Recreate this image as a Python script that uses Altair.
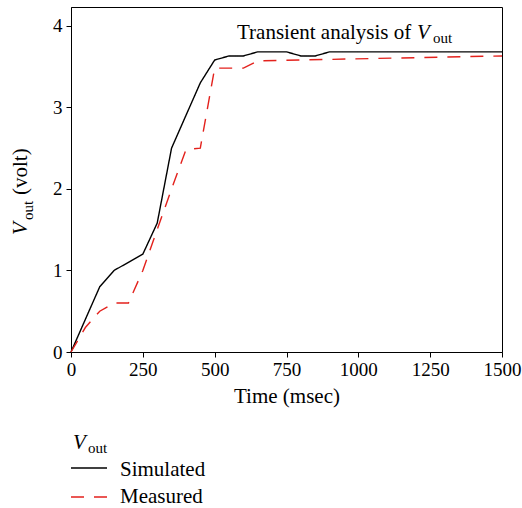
import altair as alt
import pandas as pd

FONT = "Liberation Serif"
RED = "#e3211c"

SERIES = ["Simulated", "Measured"]
SIM_T = [0, 100, 150, 250, 300, 350, 450, 500, 550, 600, 650, 750, 800, 850, 900, 1500]
SIM_V = [0, 0.8, 1.0, 1.2, 1.58, 2.5, 3.3, 3.58, 3.63, 3.63, 3.68, 3.68, 3.63, 3.63, 3.68, 3.68]
MEAS_T = [0, 50, 100, 150, 200, 250, 300, 350, 400, 450, 500, 550, 600, 650, 1500]
MEAS_V = [0, 0.3, 0.5, 0.6, 0.6, 1.0, 1.5, 2.0, 2.48, 2.5, 3.48, 3.48, 3.48, 3.57, 3.63]
X_TICKS = [0, 250, 500, 750, 1000, 1250, 1500]
Y_TICKS = [0, 1, 2, 3, 4]

TITLE_MAIN = "Transient analysis of "
V_SYM = "V"
SUB = "out"
Y_UNIT = "(volt)"
X_TITLE = "Time (msec)"

W, H = 431, 345

df = pd.concat([
    pd.DataFrame({"t": SIM_T, "v": SIM_V, "series": SERIES[0]}),
    pd.DataFrame({"t": MEAS_T, "v": MEAS_V, "series": SERIES[1]}),
])

one = pd.DataFrame({"k": [0]})

axis_style = dict(labelFont=FONT, titleFont=FONT, labelFontSize=19, titleFontSize=21,
                  titleFontWeight="normal", labelColor="black", titleColor="black",
                  labelFlush=False, labelOverlap=False, tickSize=5, format="d")

lines = alt.Chart(df).mark_line(strokeWidth=1.4).encode(
    x=alt.X("t:Q", scale=alt.Scale(domain=[0, 1500], nice=False),
            axis=alt.Axis(values=X_TICKS, title=X_TITLE, labelPadding=3, titlePadding=6, **axis_style)),
    y=alt.Y("v:Q", scale=alt.Scale(domain=[0, 4.23], nice=False),
            axis=alt.Axis(values=Y_TICKS, title=None, labelPadding=4, **axis_style)),
    color=alt.Color("series:N", scale=alt.Scale(domain=SERIES, range=["black", RED]), legend=None),
    strokeDash=alt.StrokeDash("series:N", scale=alt.Scale(domain=SERIES, range=[[1, 0], [13, 10]]), legend=None),
    order=alt.Order("t:Q"),
)


def txt(s, x, y, size=21, italic=False, angle=0, color="black"):
    kw = dict(text=s, align="left", baseline="alphabetic", font=FONT, fontSize=size, color=color)
    if italic:
        kw["fontStyle"] = "italic"
    if angle:
        kw["angle"] = angle
    return alt.Chart(one).mark_text(**kw).encode(x=alt.value(x), y=alt.value(y))


# chart title inside plot
title_layers = [
    txt(TITLE_MAIN, 166, 31.5),
    txt(V_SYM, 346, 31.5, italic=True),
    txt(SUB, 362, 36, size=15),
]

# y axis title (rotated)
ytitle_layers = [
    txt(V_SYM, -44, 228, italic=True, angle=270),
    txt(SUB, -38, 213, size=15, angle=270),
    txt(Y_UNIT, -44, 188, angle=270),
]

# legend
leg_sim = alt.Chart(one).mark_rule(color="black", strokeWidth=1.4).encode(
    x=alt.value(0), x2=alt.value(36), y=alt.value(461))
leg_meas = alt.Chart(one).mark_rule(color=RED, strokeWidth=1.4, strokeDash=[13, 10]).encode(
    x=alt.value(0), x2=alt.value(36), y=alt.value(490))
legend_layers = [
    txt(V_SYM, 2, 442, italic=True),
    txt(SUB, 17, 446, size=15),
    leg_sim, leg_meas,
    txt(SERIES[0], 49, 469),
    txt(SERIES[1], 49, 496),
]

chart = alt.layer(lines, *title_layers, *ytitle_layers, *legend_layers).properties(
    width=W, height=H,
    autosize=alt.AutoSizeParams(type="none"),
    padding={"left": 71, "top": 7, "right": 20, "bottom": 156},
).configure_view(
    stroke="black", strokeWidth=1
).configure_axis(
    domainColor="black", tickColor="black", grid=False, domainWidth=1, tickWidth=1,
)

chart.save("out.html", embed_options={"renderer": "svg", "actions": False})
